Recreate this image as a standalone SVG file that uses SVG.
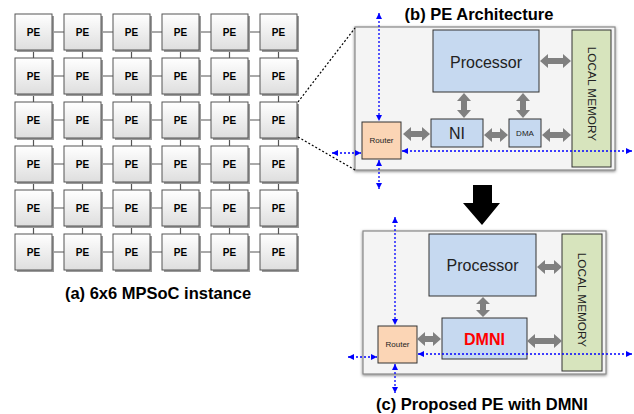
<svg xmlns="http://www.w3.org/2000/svg" width="634" height="414" viewBox="0 0 634 414">
<defs>
<linearGradient id="peg" x1="0" y1="0" x2="0" y2="1"><stop offset="0" stop-color="#ffffff"/><stop offset="1" stop-color="#dedede"/></linearGradient>
<filter id="sh" x="-10%" y="-10%" width="120%" height="120%"><feDropShadow dx="0" dy="1" stdDeviation="1.5" flood-color="#000" flood-opacity="0.5"/></filter>
<marker id="ba" viewBox="0 0 6 6" refX="6" refY="3" markerWidth="6" markerHeight="6" markerUnits="userSpaceOnUse" orient="auto-start-reverse"><path d="M0,0 L6,3 L0,6 Z" fill="#0000ff"/></marker>
</defs>
<style>
.pe rect.s{fill:#9a9a9a}
.pe rect.b{fill:url(#peg);stroke:#555;stroke-width:1}
.pe text{font-family:"Liberation Sans",Arial,sans-serif;font-weight:bold;font-size:10px;fill:#000;text-anchor:middle}
.grid line{stroke:#555;stroke-width:1.2}
.cap{font-family:"Liberation Sans",Arial,sans-serif;font-weight:bold;font-size:16.5px;fill:#000;text-anchor:middle}
.frame{fill:#f4f4f4;stroke:#888;stroke-width:1.2;filter:url(#sh)}
.proc{fill:#c6d9f0;stroke:#333;stroke-width:1}
.lm{fill:#d7e4bd;stroke:#333;stroke-width:1}
.rt{fill:#fbd5b5;stroke:#333;stroke-width:1}
.lbl{font-family:"Liberation Sans",Arial,sans-serif;fill:#222;text-anchor:middle}
.ga{fill:#808080}
.bl{stroke:#0000ff;stroke-width:1.3;stroke-dasharray:2,2;fill:none;marker-start:url(#ba);marker-end:url(#ba)}
.dl{stroke:#000;stroke-width:1.2;stroke-dasharray:2,2;fill:none}
</style>

<g id="mesh-connectors" class="grid">
<line x1="33" y1="32" x2="279" y2="32"/><line x1="33" y1="76" x2="279" y2="76"/><line x1="33" y1="120" x2="279" y2="120"/><line x1="33" y1="164" x2="279" y2="164"/><line x1="33" y1="208" x2="279" y2="208"/><line x1="33" y1="252" x2="279" y2="252"/>
<line x1="33.5" y1="32" x2="33.5" y2="252"/><line x1="82.5" y1="32" x2="82.5" y2="252"/><line x1="131.5" y1="32" x2="131.5" y2="252"/><line x1="180.5" y1="32" x2="180.5" y2="252"/><line x1="229.5" y1="32" x2="229.5" y2="252"/><line x1="278.5" y1="32" x2="278.5" y2="252"/>
</g>

<g id="mesh">
<g class="pe" id="pe-0-0"><rect class="s" x="17" y="16" width="37" height="36"/><rect class="b" x="15" y="14" width="37" height="36"/><text x="33.5" y="35.5">PE</text></g>
<g class="pe" id="pe-0-1"><rect class="s" x="66" y="16" width="37" height="36"/><rect class="b" x="64" y="14" width="37" height="36"/><text x="82.5" y="35.5">PE</text></g>
<g class="pe" id="pe-0-2"><rect class="s" x="115" y="16" width="37" height="36"/><rect class="b" x="113" y="14" width="37" height="36"/><text x="131.5" y="35.5">PE</text></g>
<g class="pe" id="pe-0-3"><rect class="s" x="164" y="16" width="37" height="36"/><rect class="b" x="162" y="14" width="37" height="36"/><text x="180.5" y="35.5">PE</text></g>
<g class="pe" id="pe-0-4"><rect class="s" x="213" y="16" width="37" height="36"/><rect class="b" x="211" y="14" width="37" height="36"/><text x="229.5" y="35.5">PE</text></g>
<g class="pe" id="pe-0-5"><rect class="s" x="262" y="16" width="37" height="36"/><rect class="b" x="260" y="14" width="37" height="36"/><text x="278.5" y="35.5">PE</text></g>

<g class="pe" id="pe-1-0"><rect class="s" x="17" y="60" width="37" height="36"/><rect class="b" x="15" y="58" width="37" height="36"/><text x="33.5" y="79.5">PE</text></g>
<g class="pe" id="pe-1-1"><rect class="s" x="66" y="60" width="37" height="36"/><rect class="b" x="64" y="58" width="37" height="36"/><text x="82.5" y="79.5">PE</text></g>
<g class="pe" id="pe-1-2"><rect class="s" x="115" y="60" width="37" height="36"/><rect class="b" x="113" y="58" width="37" height="36"/><text x="131.5" y="79.5">PE</text></g>
<g class="pe" id="pe-1-3"><rect class="s" x="164" y="60" width="37" height="36"/><rect class="b" x="162" y="58" width="37" height="36"/><text x="180.5" y="79.5">PE</text></g>
<g class="pe" id="pe-1-4"><rect class="s" x="213" y="60" width="37" height="36"/><rect class="b" x="211" y="58" width="37" height="36"/><text x="229.5" y="79.5">PE</text></g>
<g class="pe" id="pe-1-5"><rect class="s" x="262" y="60" width="37" height="36"/><rect class="b" x="260" y="58" width="37" height="36"/><text x="278.5" y="79.5">PE</text></g>

<g class="pe" id="pe-2-0"><rect class="s" x="17" y="104" width="37" height="36"/><rect class="b" x="15" y="102" width="37" height="36"/><text x="33.5" y="123.5">PE</text></g>
<g class="pe" id="pe-2-1"><rect class="s" x="66" y="104" width="37" height="36"/><rect class="b" x="64" y="102" width="37" height="36"/><text x="82.5" y="123.5">PE</text></g>
<g class="pe" id="pe-2-2"><rect class="s" x="115" y="104" width="37" height="36"/><rect class="b" x="113" y="102" width="37" height="36"/><text x="131.5" y="123.5">PE</text></g>
<g class="pe" id="pe-2-3"><rect class="s" x="164" y="104" width="37" height="36"/><rect class="b" x="162" y="102" width="37" height="36"/><text x="180.5" y="123.5">PE</text></g>
<g class="pe" id="pe-2-4"><rect class="s" x="213" y="104" width="37" height="36"/><rect class="b" x="211" y="102" width="37" height="36"/><text x="229.5" y="123.5">PE</text></g>
<g class="pe" id="pe-2-5"><rect class="s" x="262" y="104" width="37" height="36"/><rect class="b" x="260" y="102" width="37" height="36"/><text x="278.5" y="123.5">PE</text></g>

<g class="pe" id="pe-3-0"><rect class="s" x="17" y="148" width="37" height="36"/><rect class="b" x="15" y="146" width="37" height="36"/><text x="33.5" y="167.5">PE</text></g>
<g class="pe" id="pe-3-1"><rect class="s" x="66" y="148" width="37" height="36"/><rect class="b" x="64" y="146" width="37" height="36"/><text x="82.5" y="167.5">PE</text></g>
<g class="pe" id="pe-3-2"><rect class="s" x="115" y="148" width="37" height="36"/><rect class="b" x="113" y="146" width="37" height="36"/><text x="131.5" y="167.5">PE</text></g>
<g class="pe" id="pe-3-3"><rect class="s" x="164" y="148" width="37" height="36"/><rect class="b" x="162" y="146" width="37" height="36"/><text x="180.5" y="167.5">PE</text></g>
<g class="pe" id="pe-3-4"><rect class="s" x="213" y="148" width="37" height="36"/><rect class="b" x="211" y="146" width="37" height="36"/><text x="229.5" y="167.5">PE</text></g>
<g class="pe" id="pe-3-5"><rect class="s" x="262" y="148" width="37" height="36"/><rect class="b" x="260" y="146" width="37" height="36"/><text x="278.5" y="167.5">PE</text></g>

<g class="pe" id="pe-4-0"><rect class="s" x="17" y="192" width="37" height="36"/><rect class="b" x="15" y="190" width="37" height="36"/><text x="33.5" y="211.5">PE</text></g>
<g class="pe" id="pe-4-1"><rect class="s" x="66" y="192" width="37" height="36"/><rect class="b" x="64" y="190" width="37" height="36"/><text x="82.5" y="211.5">PE</text></g>
<g class="pe" id="pe-4-2"><rect class="s" x="115" y="192" width="37" height="36"/><rect class="b" x="113" y="190" width="37" height="36"/><text x="131.5" y="211.5">PE</text></g>
<g class="pe" id="pe-4-3"><rect class="s" x="164" y="192" width="37" height="36"/><rect class="b" x="162" y="190" width="37" height="36"/><text x="180.5" y="211.5">PE</text></g>
<g class="pe" id="pe-4-4"><rect class="s" x="213" y="192" width="37" height="36"/><rect class="b" x="211" y="190" width="37" height="36"/><text x="229.5" y="211.5">PE</text></g>
<g class="pe" id="pe-4-5"><rect class="s" x="262" y="192" width="37" height="36"/><rect class="b" x="260" y="190" width="37" height="36"/><text x="278.5" y="211.5">PE</text></g>

<g class="pe" id="pe-5-0"><rect class="s" x="17" y="236" width="37" height="36"/><rect class="b" x="15" y="234" width="37" height="36"/><text x="33.5" y="255.5">PE</text></g>
<g class="pe" id="pe-5-1"><rect class="s" x="66" y="236" width="37" height="36"/><rect class="b" x="64" y="234" width="37" height="36"/><text x="82.5" y="255.5">PE</text></g>
<g class="pe" id="pe-5-2"><rect class="s" x="115" y="236" width="37" height="36"/><rect class="b" x="113" y="234" width="37" height="36"/><text x="131.5" y="255.5">PE</text></g>
<g class="pe" id="pe-5-3"><rect class="s" x="164" y="236" width="37" height="36"/><rect class="b" x="162" y="234" width="37" height="36"/><text x="180.5" y="255.5">PE</text></g>
<g class="pe" id="pe-5-4"><rect class="s" x="213" y="236" width="37" height="36"/><rect class="b" x="211" y="234" width="37" height="36"/><text x="229.5" y="255.5">PE</text></g>
<g class="pe" id="pe-5-5"><rect class="s" x="262" y="236" width="37" height="36"/><rect class="b" x="260" y="234" width="37" height="36"/><text x="278.5" y="255.5">PE</text></g>
</g>

<text class="cap" x="158" y="299">(a) 6x6 MPSoC instance</text>

<!-- (b) PE Architecture -->
<g id="pe-arch">
<rect class="frame" x="355" y="27" width="260" height="143"/>
<g id="b-processor"><rect class="proc" x="433" y="30" width="106" height="62"/><text class="lbl" x="486" y="67.5" font-size="16">Processor</text></g>
<g id="b-localmem"><rect class="lm" x="572" y="30" width="39" height="137"/><text class="lbl" x="0" y="0" font-size="11.8" transform="translate(587.5,94) rotate(90)">LOCAL MEMORY</text></g>
<g id="b-ni"><rect class="proc" x="431" y="119" width="52" height="28"/><text class="lbl" x="457" y="139" font-size="16">NI</text></g>
<g id="b-dma"><rect class="proc" x="509" y="119" width="32" height="28"/><text class="lbl" x="525" y="136" font-size="8">DMA</text></g>
<g id="b-router"><rect class="rt" x="362" y="122" width="39" height="37"/><text class="lbl" x="381.5" y="143" font-size="8">Router</text></g>
</g>
<text class="cap" x="479" y="20">(b) PE Architecture</text>

<!-- (c) Proposed PE -->
<g id="pe-dmni">
<rect class="frame" x="363" y="231" width="243" height="143"/>
<g id="c-processor"><rect class="proc" x="429" y="234" width="107" height="62"/><text class="lbl" x="482.5" y="271" font-size="16">Processor</text></g>
<g id="c-localmem"><rect class="lm" x="562" y="234" width="40" height="137"/><text class="lbl" x="0" y="0" font-size="11.8" transform="translate(578,300) rotate(90)">LOCAL MEMORY</text></g>
<g id="c-dmni"><rect class="proc" x="442" y="318" width="85" height="41"/><text class="lbl" x="484.5" y="345" font-size="16" font-weight="bold" style="fill:#ff0000">DMNI</text></g>
<g id="c-router"><rect class="rt" x="378" y="326" width="39" height="37"/><text class="lbl" x="397.5" y="347" font-size="8">Router</text></g>
</g>
<text class="cap" x="482" y="410">(c) Proposed PE with DMNI</text>

<g id="connectors">
<line class="dl" x1="298" y1="102" x2="355" y2="28"/>
<line class="dl" x1="298" y1="137" x2="355" y2="170"/>
<polygon points="473,185 492,185 492,203 500,203 482,225 463,203 473,203" fill="#000"/>
<g class="ga">
<path d="M403 134 L411 127 L411 131 L422 131 L422 127 L430 134 L422 141 L422 137 L411 137 L411 141 Z"/>
<path d="M540 61 L548 54 L548 58 L563 58 L563 54 L571 61 L563 68 L563 64 L548 64 L548 68 Z"/>
<path d="M484 135 L492 128 L492 132 L500 132 L500 128 L508 135 L500 142 L500 138 L492 138 L492 142 Z"/>
<path d="M542 135 L550 128 L550 132 L563 132 L563 128 L571 135 L563 142 L563 138 L550 138 L550 142 Z"/>
<path d="M464 93 L471 101 L467 101 L467 110 L471 110 L464 118 L457 110 L461 110 L461 101 L457 101 Z"/>
<path d="M523 93 L530 101 L526 101 L526 110 L530 110 L523 118 L516 110 L520 110 L520 101 L516 101 Z"/>
<path d="M537 267 L545 260 L545 264 L554 264 L554 260 L562 267 L554 274 L554 270 L545 270 L545 274 Z"/>
<path d="M483 297 L490 304 L486 304 L486 310 L490 310 L483 317 L476 310 L480 310 L480 304 L476 304 Z"/>
<path d="M417 339 L425 332 L425 336 L433 336 L433 332 L441 339 L433 346 L433 342 L425 342 L425 346 Z"/>
<path d="M527 341 L535 334 L535 338 L554 338 L554 334 L562 341 L554 348 L554 344 L535 344 L535 348 Z"/>
</g>
<line class="bl" x1="379" y1="13" x2="379" y2="121"/>
<line class="bl" x1="379" y1="160" x2="379" y2="189"/>
<line class="bl" x1="332" y1="153" x2="361" y2="153"/>
<line class="bl" x1="402" y1="151" x2="632" y2="151"/>
<line class="bl" x1="395" y1="217" x2="395" y2="325"/>
<line class="bl" x1="395" y1="364" x2="395" y2="393"/>
<line class="bl" x1="348" y1="357" x2="377" y2="357"/>
<line class="bl" x1="418" y1="354" x2="632" y2="354"/>
</g>
</svg>
